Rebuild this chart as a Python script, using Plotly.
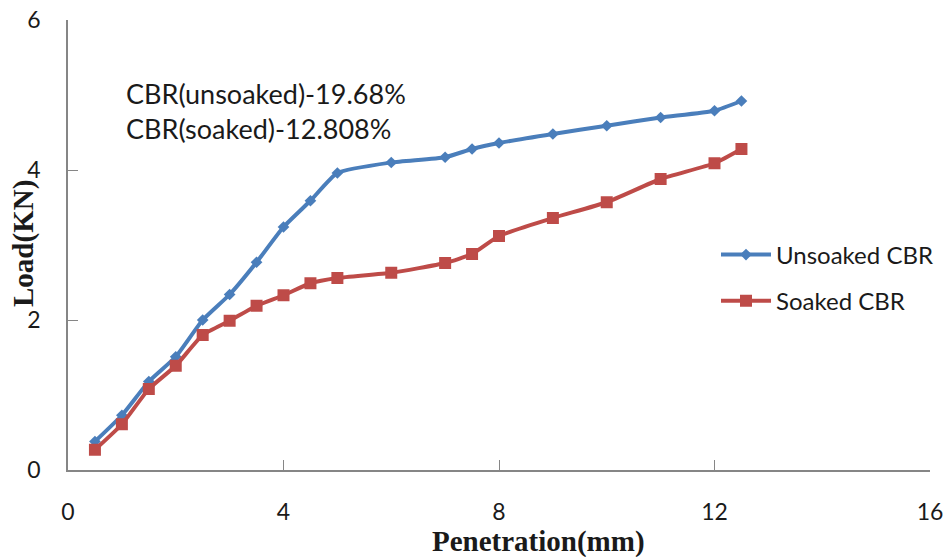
import plotly.graph_objects as go

penetration = [0.5, 1, 1.5, 2, 2.5, 3, 3.5, 4, 4.5, 5, 6, 7, 7.5, 8, 9, 10, 11, 12, 12.5]
unsoaked_load = [0.38, 0.73, 1.18, 1.51, 2.0, 2.34, 2.77, 3.24, 3.59, 3.96, 4.10, 4.17, 4.28, 4.36, 4.48, 4.59, 4.70, 4.79, 4.92]
soaked_load = [0.27, 0.61, 1.08, 1.39, 1.80, 1.99, 2.19, 2.33, 2.49, 2.56, 2.63, 2.76, 2.88, 3.12, 3.36, 3.57, 3.88, 4.09, 4.28]
x_ticks = [0, 4, 8, 12, 16]
y_ticks = [0, 2, 4, 6]
annotation_lines = ["CBR(unsoaked)-19.68%", "CBR(soaked)-12.808%"]
x_title = "Penetration(mm)"
y_title = "Load(KN)"

BLUE = "#4A7EBB"
RED = "#BE4B48"
AXIS = "#868686"
TXT = "#1a1a1a"
SANS = "Lato, Open Sans, sans-serif"
SERIF = "Liberation Serif, DejaVu Serif, serif"

# the page body has an 8px default margin, so the figure is offset by 8px
OFF = 8
W, H = 952 - OFF, 557 - OFF
ml, mr, mt, mb = 68 - OFF, 22, 20 - OFF, 87
pw, ph = W - ml - mr, H - mt - mb


def px_x(p):
    return (p - OFF - ml) / pw


def px_y(p):
    return 1 - (p - OFF - mt) / ph


fig = go.Figure()
fig.add_trace(go.Scatter(
    x=penetration, y=unsoaked_load, name="Unsoaked CBR", mode="lines+markers",
    legendgroup="u",
    line=dict(color=BLUE, width=4, shape="spline", smoothing=0.5),
    marker=dict(symbol="diamond", size=9, color=BLUE),
))
fig.add_trace(go.Scatter(
    x=penetration, y=soaked_load, name="Soaked CBR", mode="lines+markers",
    legendgroup="s",
    line=dict(color=RED, width=4, shape="spline", smoothing=0.5),
    marker=dict(symbol="square", size=12, color=RED),
))

for i, t in enumerate(annotation_lines):
    fig.add_annotation(
        x=px_x(124), y=px_y(93 + i * 35), xref="paper", yref="paper", text=t, showarrow=False,
        xanchor="left", yanchor="middle",
        font=dict(family=SANS, size=27, color=TXT),
    )

# axis titles
fig.add_annotation(
    x=px_x(538), y=px_y(541), xref="paper", yref="paper", text=f"<b>{x_title}</b>",
    showarrow=False, xanchor="center", yanchor="middle",
    font=dict(family=SERIF, size=29, color=TXT),
)
fig.add_annotation(
    x=px_x(23), y=px_y(244), xref="paper", yref="paper", text=f"<b>{y_title}</b>",
    showarrow=False, xanchor="center", yanchor="middle", textangle=-90,
    font=dict(family=SERIF, size=29, color=TXT),
)

fig.update_layout(
    width=W, height=H,
    margin=dict(l=ml, r=mr, t=mt, b=mb),
    plot_bgcolor="white", paper_bgcolor="white",
    showlegend=True,
    legend=dict(
        x=px_x(716), y=px_y(278), xanchor="left", yanchor="middle",
        font=dict(family=SANS, size=24, color=TXT),
        bgcolor="rgba(0,0,0,0)", traceorder="grouped", tracegroupgap=12,
        itemwidth=50,
    ),
    xaxis=dict(
        range=[0, 16], tickvals=x_ticks, ticktext=[str(v) for v in x_ticks],
        showgrid=False, zeroline=False, showline=True, linecolor=AXIS, linewidth=1.5,
        ticks="inside", ticklen=10, tickcolor=AXIS, ticklabelstandoff=21,
        automargin=False, ticklabeloverflow="allow",
        tickfont=dict(family=SANS, size=23, color=TXT),
    ),
    yaxis=dict(
        range=[0, 6], tickvals=y_ticks, ticktext=[str(v) for v in y_ticks],
        showgrid=False, zeroline=False, showline=True, linecolor=AXIS, linewidth=1.5,
        ticks="inside", ticklen=10, tickcolor=AXIS, ticklabelstandoff=21,
        automargin=False, ticklabeloverflow="allow",
        tickfont=dict(family=SANS, size=23, color=TXT),
    ),
)

fig.write_html("out.html")
